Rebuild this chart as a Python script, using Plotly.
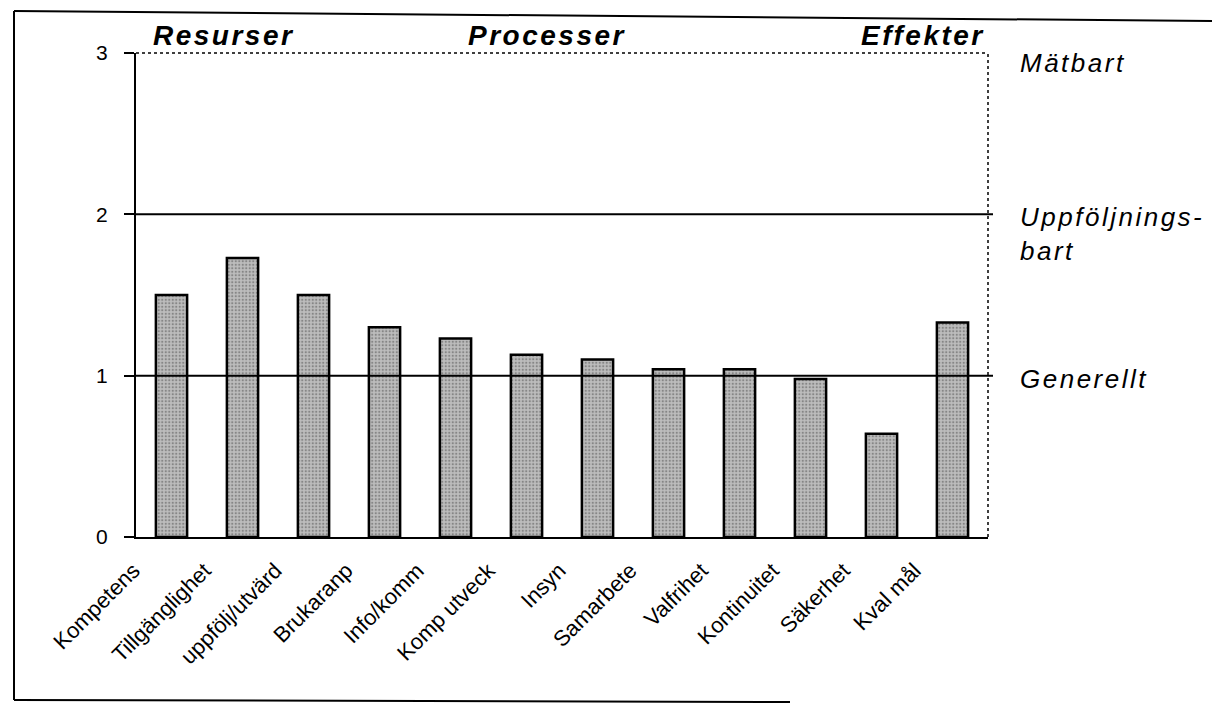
import plotly.graph_objects as go

categories = ["Kompetens", "Tillgänglighet", "uppfölj/utvärd", "Brukaranp", "Info/komm",
              "Komp utveck", "Insyn", "Samarbete", "Valfrihet", "Kontinuitet", "Säkerhet", "Kval mål"]
values = [1.50, 1.73, 1.50, 1.30, 1.23, 1.13, 1.10, 1.04, 1.04, 0.98, 0.64, 1.33]
y_ticks = [0, 1, 2, 3]
ref_levels = [1, 2]
section_titles = ["Resurser", "Processer", "Effekter"]
level_labels = ["Mätbart", "Uppföljnings-<br>bart", "Generellt"]

W, H = 1212, 706
L, R, T, B = 136, 224, 53, 169
FONT = "Liberation Sans, Arial, Helvetica, sans-serif"


def px(x):
    return (x - L) / (W - L - R)


def py(y):
    return (H - B - y) / (H - T - B)


def spaced(txt, sp):
    return '<span style="letter-spacing:%spx">%s</span>' % (sp, txt)


fig = go.Figure(go.Bar(
    x=categories, y=values, width=0.44,
    marker=dict(color="#bdbdbd", line=dict(color="black", width=2.5),
                pattern=dict(shape=".", fgcolor="#505050", size=3.5, solidity=0.33, fillmode="overlay")),
    showlegend=False,
))

shapes = []
# reference lines
for lv in ref_levels:
    shapes.append(dict(type="line", xref="paper", yref="y", x0=0, x1=px(993), y0=lv, y1=lv,
                       line=dict(color="black", width=2)))
# dotted top and right border
shapes.append(dict(type="line", xref="paper", yref="paper", x0=0, x1=1, y0=1, y1=1,
                   line=dict(color="black", width=1.5, dash="dot")))
shapes.append(dict(type="line", xref="paper", yref="paper", x0=1, x1=1, y0=0, y1=1,
                   line=dict(color="black", width=1.5, dash="dot")))
# outer scanned frame
shapes.append(dict(type="line", xref="paper", yref="paper", x0=px(14), x1=px(1212), y0=py(11), y1=py(21),
                   line=dict(color="black", width=2)))
shapes.append(dict(type="line", xref="paper", yref="paper", x0=px(14), x1=px(14), y0=py(11), y1=py(700),
                   line=dict(color="black", width=2)))
shapes.append(dict(type="line", xref="paper", yref="paper", x0=px(14), x1=px(790), y0=py(700), y1=py(702),
                   line=dict(color="black", width=2)))

annotations = []
title_pos = [(151, "left"), (547, "center"), (987, "right")]
for t, (x, anc) in zip(section_titles, title_pos):
    annotations.append(dict(text=spaced(t, 2.5), x=px(x), y=py(36), xref="paper", yref="paper",
                            xanchor=anc, yanchor="middle", showarrow=False,
                            font=dict(family=FONT, size=28, weight="bold", style="italic", color="black")))
label_pos = [63, 234, 379]
for t, y in zip(level_labels, label_pos):
    annotations.append(dict(text=spaced(t, 2.5), x=px(1018), y=py(y), xref="paper", yref="paper",
                            xanchor="left", yanchor="middle", showarrow=False, align="left",
                            font=dict(family=FONT, size=26, style="italic", color="black")))

fig.update_layout(
    width=W, height=H,
    margin=dict(l=L, r=R, t=T, b=B),
    paper_bgcolor="white", plot_bgcolor="white",
    shapes=shapes, annotations=annotations,
    bargap=0.56,
    xaxis=dict(type="category", range=[-0.5, 11.5], showline=True, linecolor="black", linewidth=2,
               ticks="", tickangle=-45, showgrid=False, zeroline=False,
               tickfont=dict(family=FONT, size=22, color="black"),
               ticklabelshift=-38, ticklabelstandoff=10),
    yaxis=dict(range=[0, 3], tickvals=y_ticks, ticks="outside", ticklen=10, tickwidth=2,
               tickcolor="black", showline=True, linecolor="black", linewidth=2,
               showgrid=False, zeroline=False,
               tickfont=dict(family=FONT, size=21, color="black"), ticklabelstandoff=12),
)

fig.write_html("out.html", config={"displayModeBar": False},
               post_script="document.body.style.margin='0px';document.body.style.overflow='hidden';")
